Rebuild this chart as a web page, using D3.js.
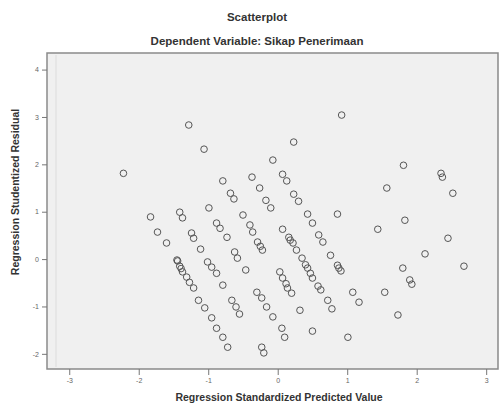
<!DOCTYPE html>
<html>
<head>
<meta charset="utf-8">
<script src="https://cdn.jsdelivr.net/npm/d3@7"></script>
<style>
body { margin: 0; background: #fff; }
text { font-family: "Liberation Sans", Arial, sans-serif; }
</style>
</head>
<body>
<script>
// chart size
var width = 502;
var height = 406;

// titles
var title = "Scatterplot";
var subtitle = "Dependent Variable: Sikap Penerimaan";
var xTitle = "Regression Standardized Predicted Value";
var yTitle = "Regression Studentized Residual";

// tick labels
var xTicks = [-3, -2, -1, 0, 1, 2, 3];
var yTicks = [-2, -1, 0, 1, 2, 3, 4];

// standardized predicted value (x) and studentized residual (y)
var predicted = [
  -2.22, -1.28, -1.06, 0.92, 0.23, -0.07, -0.37, -0.79, 0.07, 0.13,
  -0.26, -0.68, -0.63, -0.17, -0.10, 0.23, 0.30, -1.83, -1.41, -1.37,
  -0.99, -0.88, -0.83, -0.50, -0.40, -0.36, -0.29, -0.22, 0.07, 0.16,
  0.22, 0.27, 0.35, 0.43, 0.50, 0.58, 0.62, -1.73, -1.60, -1.45,
  -1.41, -1.37, -1.31, -1.27, -1.21, -1.14, -1.05, -0.95, -0.88, -0.79,
  -0.72, -1.24, -1.21, -1.11, -1.01, -0.95, -0.88, -0.79, -0.66, -0.60,
  -0.55, -0.73, -0.62, -0.58, -0.46, -0.30, -0.23, -0.16, -0.07, -0.23,
  -0.20, 0.03, 0.07, 0.14, 0.20, 0.06, 0.10, 0.32, 0.43, 0.50,
  0.59, 0.65, 0.76, 0.86, 0.91, 1.08, 1.17, 0.72, 0.78, 0.50,
  1.01, 0.86, 1.44, 1.83, 2.45, 2.12, 2.68, 1.80, 1.90, 1.93,
  1.54, 1.73, 1.81, 2.35, 2.37, 1.57, 2.52,
  -1.44, -1.39, 0.18, 0.40, 0.47, 0.12, -0.25, 0.88
];
var residual = [
  1.81, 2.83, 2.32, 3.04, 2.47, 2.09, 1.73, 1.65, 1.79, 1.65,
  1.50, 1.39, 1.27, 1.24, 1.08, 1.37, 1.22, 0.89, 0.99, 0.87,
  1.08, 0.76, 0.65, 0.93, 0.72, 0.57, 0.36, 0.19, 0.63, 0.46,
  0.34, 0.19, 0.02, -0.19, -0.40, -0.57, -0.65, 0.57, 0.34, -0.02,
  -0.15, -0.27, -0.38, -0.49, -0.61, -0.87, -1.03, -1.24, -1.46, -1.65,
  -1.86, 0.55, 0.44, 0.21, -0.06, -0.17, -0.30, -0.55, -0.87, -1.01,
  -1.16, 0.46, 0.15, 0.02, -0.23, -0.70, -0.82, -1.01, -1.22, -1.86,
  -1.98, -0.27, -0.40, -0.61, -0.72, -1.46, -1.65, -1.08, 0.95, 0.76,
  0.51, 0.36, 0.08, -0.13, -0.25, -0.70, -0.91, -0.87, -1.05, -1.52,
  -1.65, 0.95, 0.63, 0.82, 0.44, 0.11, -0.15, -0.19, -0.44, -0.53,
  -0.70, -1.18, 1.98, 1.81, 1.73, 1.50, 1.39,
  -0.04, -0.20, 0.40, -0.12, -0.30, -0.52, 0.27, -0.19
];

var points = predicted.map(function(d, i) { return { x: d, y: residual[i] }; });

// plot frame
var plotLeft = 47, plotRight = 498, plotTop = 53, plotBottom = 369;

var svg = d3.select("body")
  .append("svg")
  .attr("width", width)
  .attr("height", height);

var x = d3.scaleLinear().domain([-3.32, 3.17]).range([plotLeft, plotRight]);
var y = d3.scaleLinear().domain([-2.32, 4.35]).range([plotBottom, plotTop]);

// titles
svg.append("text")
  .attr("x", 257).attr("y", 21)
  .attr("text-anchor", "middle")
  .style("font-size", "11.5px").style("font-weight", "bold").style("fill", "#333")
  .text(title);
svg.append("text")
  .attr("x", 257).attr("y", 45)
  .attr("text-anchor", "middle")
  .style("font-size", "11.5px").style("font-weight", "bold").style("fill", "#333")
  .text(subtitle);

// plot background
svg.append("rect")
  .attr("x", plotLeft).attr("y", plotTop)
  .attr("width", plotRight - plotLeft).attr("height", plotBottom - plotTop)
  .style("fill", "#f0f0f0")
  .style("stroke", "#8a8a8a")
  .style("stroke-width", 1.5);

svg.append("line")
  .attr("x1", plotLeft + 9).attr("x2", plotLeft + 9)
  .attr("y1", plotTop + 2).attr("y2", plotBottom - 2)
  .style("stroke", "#dcdcdc");

// axes
var fmt = function(d) { return String(d); };
var xAxis = d3.axisBottom(x).tickValues(xTicks).tickFormat(fmt).tickSize(6).tickPadding(3);
var yAxis = d3.axisLeft(y).tickValues(yTicks).tickFormat(fmt).tickSize(5).tickPadding(3);

var gx = svg.append("g")
  .attr("transform", "translate(0," + plotBottom + ")")
  .call(xAxis);
var gy = svg.append("g")
  .attr("transform", "translate(" + plotLeft + ",0)")
  .call(yAxis);

[gx, gy].forEach(function(g) {
  g.select(".domain").remove();
  g.selectAll("line").style("stroke", "#777");
  g.selectAll("text").style("font-size", "7px").style("fill", "#666");
});

// axis titles
svg.append("text")
  .attr("x", 279).attr("y", 401)
  .attr("text-anchor", "middle")
  .style("font-size", "10.5px").style("font-weight", "bold").style("fill", "#333")
  .text(xTitle);
svg.append("text")
  .attr("transform", "translate(19,192) rotate(-90)")
  .attr("text-anchor", "middle")
  .style("font-size", "10.5px").style("font-weight", "bold").style("fill", "#333")
  .text(yTitle);

// points
svg.selectAll("circle")
  .data(points)
  .enter()
  .append("circle")
  .attr("cx", function(d) { return x(d.x); })
  .attr("cy", function(d) { return y(d.y); })
  .attr("r", 3.3)
  .style("fill", "none")
  .style("stroke", "#555")
  .style("stroke-width", 1);
</script>
</body>
</html>
